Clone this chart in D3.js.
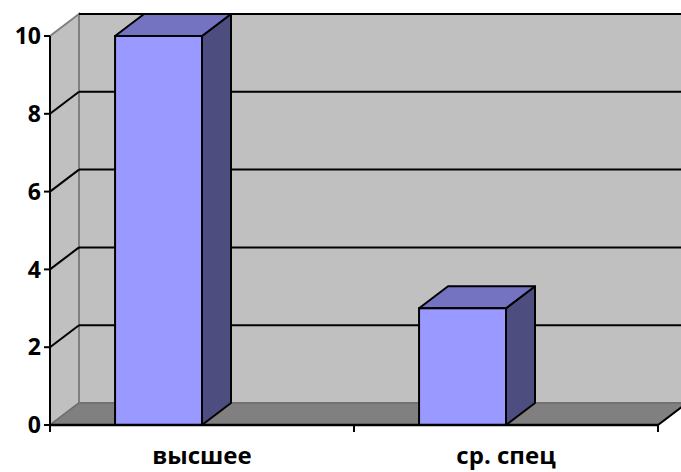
<!DOCTYPE html>
<html>
<head>
<meta charset="utf-8">
<script src="https://cdn.jsdelivr.net/npm/d3@7"></script>
<style>
  body { margin: 0; background: #fff; }
  text { font-family: "Open Sans", sans-serif; font-weight: bold; }
</style>
</head>
<body>
<div id="chart"></div>
<script>
// data
var categories = ["высшее", "ср. спец"];
var values = [10, 3];
var yTicks = [0, 2, 4, 6, 8, 10];

var width = 681, height = 472;
var svg = d3.select("#chart").append("svg").attr("width", width).attr("height", height);

// depth offset of the 3d box
var dx = 29, dy = -22;

var x = d3.scaleBand().domain(categories).range([50, 658]).padding(0);
var y = d3.scaleLinear().domain([0, 10]).range([425, 36]);

var pts = function(a) { return a.map(function(p) { return p.join(","); }).join(" "); };

// back wall
svg.append("polygon")
   .attr("points", pts([[50 + dx, y(10) + dy], [width + 5, y(10) + dy], [width + 5, y(0) + dy], [50 + dx, y(0) + dy]]))
   .attr("fill", "#c0c0c0")
   .attr("stroke", "#808080")
   .attr("stroke-width", 2);

// side wall
svg.append("polygon")
   .attr("points", pts([[50, y(10)], [50 + dx, y(10) + dy], [50 + dx, y(0) + dy], [50, y(0)]]))
   .attr("fill", "#c0c0c0")
   .attr("stroke", "#808080")
   .attr("stroke-width", 2);

// floor
svg.append("polygon")
   .attr("points", pts([[50, y(0)], [50 + dx, y(0) + dy], [658 + dx, y(0) + dy], [658, y(0)]]))
   .attr("fill", "#808080")
   .attr("stroke", "#6e6e6e")
   .attr("stroke-width", 1.5);
svg.append("line")
   .attr("x1", 658).attr("y1", y(0)).attr("x2", 658 + dx).attr("y2", y(0) + dy)
   .attr("stroke", "#000").attr("stroke-width", 2);

// gridlines on back and side walls
var grid = yTicks.filter(function(d) { return d > 0; });
svg.selectAll(".gridBack").data(grid).enter().append("line")
   .attr("x1", 50 + dx).attr("x2", width + 5)
   .attr("y1", function(d) { return y(d) + dy; })
   .attr("y2", function(d) { return y(d) + dy; })
   .attr("stroke", "#000").attr("stroke-width", 2);
svg.selectAll(".gridSide").data(grid.filter(function(d) { return d < 10; })).enter().append("line")
   .attr("x1", 50).attr("x2", 50 + dx)
   .attr("y1", function(d) { return y(d); })
   .attr("y2", function(d) { return y(d) + dy; })
   .attr("stroke", "#000").attr("stroke-width", 2);

// bars
var bw = x.bandwidth();
var bars = svg.selectAll(".bar").data(values).enter().append("g");
bars.each(function(v, i) {
  var g = d3.select(this);
  var x0 = x(categories[i]) + bw * 0.214, x1 = x0 + bw * 0.286;
  var yt = y(v), yb = y(0);
  g.append("polygon")
   .attr("points", pts([[x1, yt], [x1 + dx, yt + dy], [x1 + dx, yb + dy], [x1, yb]]))
   .attr("fill", "#4d4d80").attr("stroke", "#000").attr("stroke-width", 2).attr("stroke-linejoin", "round");
  g.append("polygon")
   .attr("points", pts([[x0, yt], [x0 + dx, yt + dy], [x1 + dx, yt + dy], [x1, yt]]))
   .attr("fill", "#7373c2").attr("stroke", "#000").attr("stroke-width", 2).attr("stroke-linejoin", "round");
  g.append("rect")
   .attr("x", x0).attr("y", yt).attr("width", x1 - x0).attr("height", yb - yt)
   .attr("fill", "#9999ff").attr("stroke", "#000").attr("stroke-width", 2);
});

// y axis
svg.append("line").attr("x1", 50).attr("x2", 50).attr("y1", y(10)).attr("y2", y(0) + 6)
   .attr("stroke", "#000").attr("stroke-width", 2);
svg.selectAll(".ytick").data(yTicks).enter().append("line")
   .attr("x1", 44).attr("x2", 50)
   .attr("y1", function(d) { return y(d); }).attr("y2", function(d) { return y(d); })
   .attr("stroke", "#000").attr("stroke-width", 2);
svg.selectAll(".ylab").data(yTicks).enter().append("text")
   .attr("x", 41).attr("y", function(d) { return y(d); })
   .attr("dy", "0.36em")
   .attr("text-anchor", "end")
   .attr("font-size", 23)
   .text(function(d) { return d; });

// x axis
svg.append("line").attr("x1", 50).attr("x2", 658).attr("y1", y(0)).attr("y2", y(0))
   .attr("stroke", "#000").attr("stroke-width", 2.5);
var xt = [50, 50 + bw, 658];
svg.selectAll(".xtick").data(xt).enter().append("line")
   .attr("x1", function(d) { return d; }).attr("x2", function(d) { return d; })
   .attr("y1", y(0)).attr("y2", y(0) + 7)
   .attr("stroke", "#000").attr("stroke-width", 2);
svg.selectAll(".xlab").data(categories).enter().append("text")
   .attr("x", function(d) { return x(d) + bw / 2; })
   .attr("y", 464)
   .attr("text-anchor", "middle")
   .attr("font-size", 24)
   .text(function(d) { return d; });
</script>
</body>
</html>
